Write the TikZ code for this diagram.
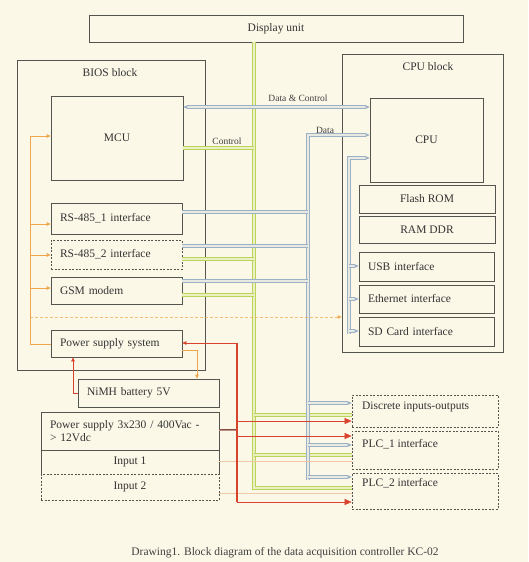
\documentclass[tikz,border=0pt]{standalone}
\usepackage{fontspec}
\setmainfont{Liberation Serif}
\usetikzlibrary{arrows.meta, calc}

\definecolor{carta}{HTML}{FBF8E8}
\definecolor{bordo}{HTML}{55554F}
\definecolor{verde}{HTML}{BCD35A}
\definecolor{azzurro}{HTML}{9CB1C6}
\definecolor{arancio}{HTML}{EFA64A}
\definecolor{rosso}{HTML}{D8432E}
\definecolor{marrone}{HTML}{8A4A3E}
\definecolor{tenue}{HTML}{F2C6A8}

\tikzset{
  blocco/.style={draw=bordo, fill=carta, line width=0.7pt, inner sep=0pt,
    font=\fontsize{11.5}{13.5}\selectfont, text=black!80},
  bloccot/.style={blocco, dash pattern=on 2pt off 1.5pt},
  sinistra/.style={inner xsep=9pt, text width=#1, align=left},
  gruppo/.style={draw=bordo, line width=0.6pt, inner sep=0pt},
  titolo/.style={font=\fontsize{11.5}{13.5}\selectfont, text=black!80},
  etich/.style={font=\fontsize{9.5}{11}\selectfont, text=black!75, inner sep=1pt},
  busv/.style={draw=verde, double=carta!75!verde, double distance=1.8pt, line width=1pt},
  busb/.style={draw=azzurro, double=carta!80!azzurro, double distance=1.3pt, line width=0.9pt},
  pwr/.style={draw=arancio, line width=0.7pt},
  rfil/.style={draw=rosso, line width=0.6pt},
}

\begin{document}
\begin{tikzpicture}[x=1pt,y=-1pt,>={Triangle[length=4pt,width=3.5pt]}]
    % Sfondo
    \fill[carta] (0,0) rectangle (528,562);
    \useasboundingbox (0,0) rectangle (528,562);
    % Gruppi
    \node (bios) [gruppo, minimum width=188pt, minimum height=310pt] at (111,215) {};
    \node (biostit) [titolo] at (110,73) {BIOS block};
    \node (cpublk) [gruppo, minimum width=161pt, minimum height=298pt] at (422.5,203) {};
    \node (cputit) [titolo] at (428,67) {CPU block};
    % Blocchi
    \node (display) [blocco, minimum width=374pt, minimum height=27pt] at (276,28.5) {Display unit};
    \node (mcu) [blocco, minimum width=132pt, minimum height=84pt] at (117,138) {MCU};
    \node (rs1) [blocco, sinistra=113pt, minimum height=31pt] at (116.5,218.5) {RS-485\_1 interface};
    \node (rs2) [bloccot, sinistra=113pt, minimum height=29pt] at (116.5,254.5) {RS-485\_2 interface};
    \node (gsm) [blocco, sinistra=113pt, minimum height=27pt] at (116.5,290.5) {GSM modem};
    \node (psys) [blocco, sinistra=113pt, minimum height=27pt] at (116.5,343.5) {Power supply system};
    \node (nimh) [blocco, sinistra=123pt, minimum height=28pt] at (148.5,393) {NiMH battery 5V};
    \node (ps230) [blocco, sinistra=160pt, minimum height=38pt] at (130,431) {Power supply 3x230 / 400Vac -\\> 12Vdc};
    \node (in1) [blocco, minimum width=178pt, minimum height=24pt] at (130,462) {Input 1};
    \node (in2) [bloccot, minimum width=178pt, minimum height=26pt] at (130,487) {Input 2};
    \node (cpu) [blocco, minimum width=113pt, minimum height=84pt] at (426.5,140) {CPU};
    \node (flash) [blocco, minimum width=136pt, minimum height=28pt] at (427,199) {Flash ROM};
    \node (ram) [blocco, minimum width=136pt, minimum height=27pt] at (427,229.5) {RAM DDR};
    \node (usb) [blocco, sinistra=117pt, minimum height=29pt] at (426.5,266.5) {USB interface};
    \node (eth) [blocco, sinistra=117pt, minimum height=28pt] at (426.5,299) {Ethernet interface};
    \node (sd) [blocco, sinistra=117pt, minimum height=29pt] at (426.5,331.5) {SD Card interface};
    \node (dio) [bloccot, minimum width=146pt, minimum height=32pt] at (425,411) {};
    \node (plc1) [bloccot, minimum width=146pt, minimum height=38pt] at (425,450) {};
    \node (plc2) [bloccot, minimum width=146pt, minimum height=36pt] at (425,491) {};
    \node (diotxt) [titolo, anchor=west] at ($(dio.west)+(7,-4)$) {Discrete inputs-outputs};
    \node (plc1txt) [titolo, anchor=west] at ($(plc1.west)+(7,-6)$) {PLC\_1 interface};
    \node (plc2txt) [titolo, anchor=west] at ($(plc2.west)+(7,-8)$) {PLC\_2 interface};
    % Punti dei bus
    \coordinate (vctl) at (254,148);
    \coordinate (vrs2) at (254,259);
    \coordinate (vgsm) at (254,295);
    \coordinate (vdio) at (254,415);
    \coordinate (vplc1) at (254,455);
    \coordinate (vend) at (254,488);
    \coordinate (dcy) at (300,107);
    \coordinate (dtop) at (308,135);
    \coordinate (drs1) at (308,212);
    \coordinate (drs2) at (308,246);
    \coordinate (dgsm) at (308,281);
    \coordinate (ddio) at (308,403);
    \coordinate (dplc1) at (308,445);
    \coordinate (dplc2) at (308,477);
    \coordinate (dbot) at (308,480);
    \coordinate (itop) at (349,158);
    \coordinate (iusb) at (349,266);
    \coordinate (ieth) at (349,299);
    \coordinate (isd) at (349,331);
    \coordinate (ibot) at (349,334);
    % Bus di controllo (verde)
    \draw[busv] (display.south -| vend) -- (vend) -- (vend -| plc2.west);
    \draw[busv] (mcu.east |- vctl) -- (vctl);
    \draw[busv] (rs2.east |- vrs2) -- (vrs2);
    \draw[busv] (gsm.east |- vgsm) -- (vgsm);
    \draw[busv] (vdio) -- (vdio -| dio.west);
    \draw[busv] (vplc1) -- (vplc1 -| plc1.west);
    \node (lblctl) [etich] at (227,141) {Control};
    % Bus dati (azzurro)
    \draw[busb,<->] (mcu.east |- dcy) -- (cpu.west |- dcy);
    \node (lbldc) [etich] at (298,98) {Data \& Control};
    \draw[busb,->] (dbot) -- (dtop) -- (dtop -| cpu.west);
    \node (lbld) [etich] at (325,130) {Data};
    \draw[busb] (rs1.east |- drs1) -- (drs1);
    \draw[busb] (rs2.east |- drs2) -- (drs2);
    \draw[busb] (gsm.east |- dgsm) -- (dgsm);
    \draw[busb,->] (ddio) -- (ddio -| dio.west);
    \draw[busb,->] (dplc1) -- (dplc1 -| plc1.west);
    \draw[busb,->] (dplc2) -- (dplc2 -| plc2.west);
    \draw[busb,->] (ibot) -- (itop) -- (itop -| cpu.west);
    \draw[busb,->] (iusb) -- (iusb -| usb.west);
    \draw[busb,->] (ieth) -- (ieth -| eth.west);
    \draw[busb,->] (isd) -- (isd -| sd.west);
    % Alimentazione
    \coordinate (aan) at (30,344);
    \coordinate (amcu) at (30,136);
    \coordinate (ars1) at (30,224);
    \coordinate (ars2) at (30,255);
    \coordinate (agsm) at (30,288);
    \coordinate (acpu) at (30,317);
    \coordinate (abat) at (197,350);
    \draw[pwr,->] (psys.west |- aan) -- (aan) -- (amcu) -- (amcu -| mcu.west);
    \draw[pwr,->] (ars1) -- (ars1 -| rs1.west);
    \draw[pwr,->] (ars2) -- (ars2 -| rs2.west);
    \draw[pwr,->] (agsm) -- (agsm -| gsm.west);
    \draw[pwr,->,dash pattern=on 3pt off 2pt,draw opacity=0.7] (acpu) -- (acpu -| cpublk.west);
    \draw[pwr,->] (psys.east |- abat) -- (abat) -- (abat |- nimh.north);
    \coordinate (rbat) at (73,393);
    \coordinate (rtop) at (237,343);
    \coordinate (rin) at (237,430);
    \coordinate (rdio) at (237,421);
    \coordinate (rplc1) at (237,436);
    \coordinate (rbot) at (237,502);
    \coordinate (fin1) at (300,461);
    \coordinate (fin2) at (300,493);
    \draw[rfil,->] (nimh.west |- rbat) -- (rbat) -- (rbat |- psys.south);
    \draw[tenue, line width=0.7pt] (in1.east |- fin1) -- (fin1 -| plc1.west);
    \draw[tenue, line width=0.7pt] (in2.east |- fin2) -- (fin2 -| plc2.west);
    \draw[marrone, double=marrone!60, double distance=0.8pt, line width=0.6pt] (ps230.east |- rin) -- (rin);
    \draw[rosso, line width=2pt] (rtop) -- (rbot);
    \draw[rfil,->] (rtop) -- (rtop -| psys.east);
    \draw[rfil,-{Triangle[length=7pt,width=6pt]}] (rdio) -- (rdio -| dio.west);
    \draw[rfil,-{Triangle[length=7pt,width=6pt]}] (rplc1) -- (rplc1 -| plc1.west);
    \draw[rfil,-{Triangle[length=7pt,width=6pt]}] (rbot) -- (rbot -| plc2.west);
    % Didascalia
    \node (didasc) [font=\fontsize{11.5}{13}\selectfont, text=black!75] at (285,553) {Drawing1. Block diagram of the data acquisition controller KC-02};
\end{tikzpicture}
\end{document}
